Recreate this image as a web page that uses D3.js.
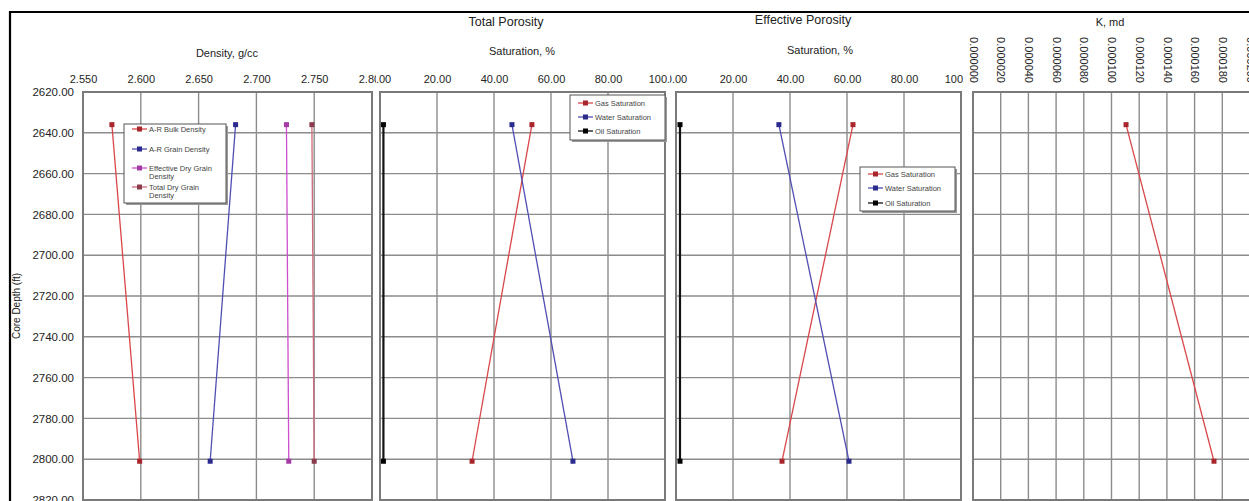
<!DOCTYPE html>
<html>
<head>
<meta charset="utf-8">
<script src="https://cdn.jsdelivr.net/npm/d3@7"></script>
<style>
  body { margin: 0; background: #fff; }
  svg { display: block; font-family: "Liberation Sans", Arial, sans-serif; }
</style>
</head>
<body>
<svg id="chart" width="1249" height="501"></svg>
<script>
// core depths (ft) of the two samples
const depths = [2636, 2801];
const depthTicks = [2620, 2640, 2660, 2680, 2700, 2720, 2740, 2760, 2780, 2800, 2820];

// density track, g/cc
const densityTicks = [2.55, 2.6, 2.65, 2.7, 2.75, 2.8];
const densityNames = ["A-R Bulk Density", "A-R Grain Density", "Effective Dry Grain\nDensity", "Total Dry Grain\nDensity"];
const bulkDensity = [2.575, 2.599];
const grainDensity = [2.682, 2.660];
const effDryGrain = [2.726, 2.728];
const totDryGrain = [2.748, 2.750];

// saturation tracks, %
const satTicks = [0, 20, 40, 60, 80, 100];
const satNames = ["Gas Saturation", "Water Saturation", "Oil Saturation"];
const totGas = [53.3, 32.3];
const totWater = [46.3, 67.7];
const totOil = [1.2, 1.2];
const effGas = [62.1, 37.2];
const effWater = [36.1, 60.7];
const effOil = [1.4, 1.4];

// permeability, md
const permTicks = [0, 0.00002, 0.00004, 0.00006, 0.00008, 0.0001, 0.00012, 0.00014, 0.00016, 0.00018, 0.0002];
const perm = [0.0001105, 0.000174];

const svg = d3.select("#chart");
const y = d3.scaleLinear().domain([2620, 2820]).range([92, 500]);

const red = { line: "#d9474a", mark: "#a8262b" },
    blue = { line: "#4f4fb3", mark: "#2b2b8e" },
    pink = { line: "#cc4fcc", mark: "#a63aa6" },
    rose = { line: "#cf6b7c", mark: "#8a3c4c" },
    black = { line: "#111", mark: "#000" };

// each track is its own "picture": white, clipped, later ones lie over earlier ones
const panels = [
    { id: "p1", x0: 11, x1: 376, scale: d3.scaleLinear().domain([2.55, 2.8]).range([83, 372]), ticks: densityTicks, fmt: d3.format(".3f") },
    { id: "p2", x0: 376, x1: 670, scale: d3.scaleLinear().domain([0, 100]).range([380, 665]), ticks: satTicks, fmt: d3.format(".2f") },
    { id: "p3", x0: 670, x1: 964, scale: d3.scaleLinear().domain([0, 100]).range([676, 961]), ticks: satTicks, fmt: d3.format(".2f") },
    { id: "p4", x0: 964, x1: 1249, scale: d3.scaleLinear().domain([0, 0.0002]).range([973, 1250]), ticks: permTicks, fmt: d3.format(".6f"), rotate: true }
];

const defs = svg.append("defs");

panels.forEach(p => {
    defs.append("clipPath").attr("id", "clip-" + p.id)
        .append("rect").attr("x", p.x0).attr("y", 14).attr("width", p.x1 - p.x0).attr("height", 487);
    const g = svg.append("g").attr("clip-path", `url(#clip-${p.id})`);
    p.g = g;
    g.append("rect").attr("x", p.x0).attr("y", 14).attr("width", p.x1 - p.x0).attr("height", 487).attr("fill", "#fff");

    const x = p.scale, [l, r] = x.range();
    const grid = g.append("g").attr("stroke", "#8c8c8c").attr("stroke-width", 1.4);
    grid.selectAll("line.h").data(depthTicks).enter().append("line")
        .attr("x1", l).attr("x2", r).attr("y1", d => y(d)).attr("y2", d => y(d));
    grid.selectAll("line.v").data(p.ticks).enter().append("line")
        .attr("x1", d => x(d)).attr("x2", d => x(d)).attr("y1", y(2620)).attr("y2", y(2820));
    g.append("rect").attr("x", l).attr("y", y(2620)).attr("width", r - l).attr("height", y(2820) - y(2620))
        .attr("fill", "none").attr("stroke", "#7a7a7a").attr("stroke-width", 2);

    const ax = g.append("g").attr("transform", `translate(0,${y(2620)})`)
        .call(d3.axisTop(x).tickValues(p.ticks).tickFormat(p.fmt).tickSize(0).tickPadding(9));
    ax.select(".domain").remove();
    ax.selectAll("text").attr("font-size", 11).attr("fill", "#1e1e1e")
        .attr("font-family", "Liberation Sans, Arial, sans-serif");
    if (p.rotate) {
        ax.selectAll("text").attr("transform", "rotate(90)").attr("text-anchor", "end")
            .attr("x", -9).attr("y", 0).attr("dy", "0.35em");
    }
});

// depth axis on the density track
const yAx = panels[0].g.append("g").attr("transform", "translate(83,0)")
    .call(d3.axisLeft(y).tickValues(depthTicks).tickFormat(d3.format(".2f")).tickSize(0).tickPadding(9));
yAx.select(".domain").remove();
yAx.selectAll("text").attr("font-size", 11.5).attr("fill", "#1e1e1e")
    .attr("font-family", "Liberation Sans, Arial, sans-serif");
panels[0].g.append("text").attr("transform", "translate(20,306) rotate(-90)")
    .attr("text-anchor", "middle").attr("font-size", 10).attr("fill", "#222").text("Core Depth (ft)");

function title(g, x, yy, txt, size) {
    g.append("text").attr("x", x).attr("y", yy).attr("dy", "0.35em").attr("text-anchor", "middle")
        .attr("font-size", size).attr("fill", "#222").text(txt);
}
title(panels[0].g, 227, 53, "Density, g/cc", 11);
title(panels[1].g, 506, 22, "Total Porosity", 12.5);
title(panels[1].g, 522, 51, "Saturation, %", 11);
title(panels[2].g, 803, 20, "Effective Porosity", 12.5);
title(panels[2].g, 820, 50, "Saturation, %", 11);
title(panels[3].g, 1110, 22, "K, md", 11);

function series(p, vals, c, width) {
    const x = p.scale;
    const pts = vals.map((v, i) => [x(v), y(depths[i])]);
    p.g.append("path").attr("d", d3.line()(pts)).attr("fill", "none")
        .attr("stroke", c.line).attr("stroke-width", width || 1.3);
    p.g.selectAll(null).data(pts).enter().append("rect")
        .attr("x", d => d[0] - 2.5).attr("y", d => d[1] - 2.5).attr("width", 5).attr("height", 5)
        .attr("fill", c.mark);
}
series(panels[0], bulkDensity, red);
series(panels[0], grainDensity, blue);
series(panels[0], effDryGrain, pink);
series(panels[0], totDryGrain, rose);
series(panels[1], totGas, red);
series(panels[1], totWater, blue);
series(panels[1], totOil, black, 2.2);
series(panels[2], effGas, red);
series(panels[2], effWater, blue);
series(panels[2], effOil, black, 2.2);
series(panels[3], perm, red);

function legend(g, bx, by, bw, bh, names, colors, rows, sx) {
    g.append("rect").attr("x", bx + 2).attr("y", by + 2).attr("width", bw).attr("height", bh).attr("fill", "#9a9a9a");
    g.append("rect").attr("x", bx).attr("y", by).attr("width", bw).attr("height", bh)
        .attr("fill", "#fff").attr("stroke", "#555").attr("stroke-width", 1);
    names.forEach((n, i) => {
        const ry = rows[i];
        g.append("line").attr("x1", sx).attr("x2", sx + 15).attr("y1", ry).attr("y2", ry)
            .attr("stroke", colors[i].line).attr("stroke-width", 1.3);
        g.append("rect").attr("x", sx + 5).attr("y", ry - 2.5).attr("width", 5).attr("height", 5).attr("fill", colors[i].mark);
        const t = g.append("text").attr("x", sx + 17).attr("y", ry).attr("dy", "0.35em")
            .attr("font-size", 7.5).attr("fill", "#444");
        n.split("\n").forEach((s, k) => {
            t.append("tspan").attr("x", sx + 17).attr("dy", k ? "1.15em" : "0.35em").text(s);
        });
    });
}
legend(panels[0].g, 124, 124, 102, 79, densityNames, [red, blue, pink, rose], [129, 149, 168, 187], 132);
legend(panels[1].g, 570, 95, 95, 45, satNames, [red, blue, black], [103, 117, 131], 578);
legend(panels[2].g, 860, 167, 95, 44, satNames, [red, blue, black], [174, 188, 203], 868);

// outer frame of the composite
svg.append("path").attr("d", "M10,501V12H1249").attr("fill", "none").attr("stroke", "#000").attr("stroke-width", 2.2);
</script>
</body>
</html>
